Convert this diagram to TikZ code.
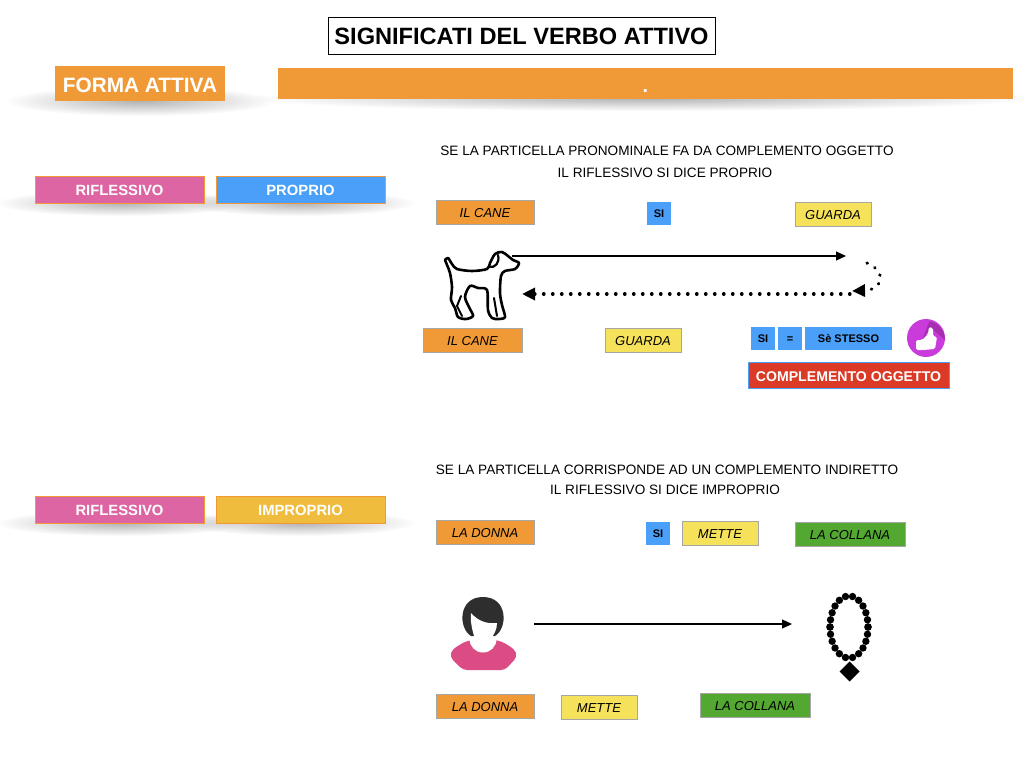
\documentclass[tikz,border=0pt]{standalone}
\usepackage{fontspec}
\setmainfont{Liberation Sans}
\usepackage{xcolor}
\usetikzlibrary{arrows.meta}
\usetikzlibrary{shapes.geometric}
\usetikzlibrary{fadings}
\definecolor{arancio}{HTML}{F09A37}
\definecolor{rosa}{HTML}{DE65A3}
\definecolor{azzurro}{HTML}{4A9FF9}
\definecolor{giallo}{HTML}{F6E25A}
\definecolor{oro}{HTML}{F0BC3D}
\definecolor{verde}{HTML}{53A832}
\definecolor{rosso}{HTML}{DB3B26}
\definecolor{viola}{HTML}{C93BDB}
\definecolor{violascuro}{HTML}{A62FB0}
\definecolor{fucsia}{HTML}{DB4C84}
\definecolor{capelli}{HTML}{2E2E2E}
\tikzfading[name=sfuma,inner color=transparent!70,outer color=transparent!100]

\begin{document}
\begin{tikzpicture}
  [x=1pt,y=-1pt,
  every node/.style={inner sep=0pt,outer sep=0pt,align=center},
  riga/.style={font=\fontsize{13.6}{16}\selectfont},
  tag/.style={font=\fontsize{14.8}{18}\selectfont\bfseries,text=white,draw=arancio,line width=.8pt,minimum height=27pt,minimum width=169pt,text height=12.6pt,text depth=0pt},
  parola/.style={font=\fontsize{13}{15}\selectfont\itshape,draw=black!35,line width=.8pt,minimum height=24pt,text height=11.3pt,text depth=0pt},
  mini/.style={font=\fontsize{11}{12}\selectfont\bfseries,fill=azzurro,minimum height=23pt,text height=8.6pt,text depth=0pt},
  ombra/.style={fill=black,path fading=sfuma},
  punti/.style={line width=3.2pt,line cap=round,dash pattern=on .5pt off 8.5pt,-{Triangle[length=13pt,width=12pt]}},
  linea/.style={line width=1.2pt,-{Triangle[length=10pt,width=9pt]}}]
  \useasboundingbox (0,0) rectangle (1024,768);

  % ombre
  \fill[ombra] (140,101) ellipse (135 and 15);
  \fill[ombra] (645,98) ellipse (395 and 13);
  \fill[ombra] (120,203) ellipse (125 and 13);
  \fill[ombra] (300,203) ellipse (115 and 13);
  \fill[ombra] (120,523) ellipse (125 and 13);
  \fill[ombra] (300,523) ellipse (115 and 13);

  % intestazione
  \node (titolo) at (521.5,35.5) [draw=black,line width=.8pt,minimum width=387pt,minimum height=37pt,font=\fontsize{23.6}{28}\selectfont\bfseries,text height=19pt,text depth=0pt] {SIGNIFICATI DEL VERBO ATTIVO};
  \node (forma) at (140,83.5) [fill=arancio,text=white,minimum width=170pt,minimum height=35pt,font=\fontsize{20.8}{24}\selectfont\bfseries,text height=17pt,text depth=0pt] {FORMA ATTIVA};
  \node (barra) at (645.5,83.5) [fill=arancio,text=white,minimum width=735pt,minimum height=31pt,font=\fontsize{20}{22}\selectfont\bfseries,text height=17pt,text depth=0pt] {.};

  % proprio
  \node (rif1) at (119.5,189.5) [tag,fill=rosa] {RIFLESSIVO};
  \node (pro) at (300.5,189.5) [tag,fill=azzurro] {PROPRIO};
  \node (t1) at (667,151) [riga] {SE LA PARTICELLA PRONOMINALE FA DA COMPLEMENTO OGGETTO};
  \node (t2) at (665,173) [riga] {IL RIFLESSIVO SI DICE PROPRIO};
  \node (cane1) at (485,212) [parola,fill=arancio,minimum width=98pt] {IL CANE};
  \node (si1) at (659,213) [mini,minimum width=24pt] {SI};
  \node (gua1) at (833,214) [parola,fill=giallo,minimum width=76pt] {GUARDA};
  \node (cane2) at (472.5,340) [parola,fill=arancio,minimum width=99pt] {IL CANE};
  \node (gua2) at (643,340) [parola,fill=giallo,minimum width=76pt] {GUARDA};
  \node (si2) at (763,338.5) [mini,minimum width=24pt] {SI};
  \node (ug) at (790,338.5) [mini,minimum width=24pt] {=};
  \node (se) at (848.5,338.5) [mini,minimum width=87pt] {Sè STESSO};
  \node (co) at (848.5,375) [fill=rosso,draw=azzurro,line width=1pt,text=white,minimum width=201pt,minimum height=26pt,font=\fontsize{14.1}{17}\selectfont\bfseries,text height=12pt,text depth=0pt] {COMPLEMENTO OGGETTO};

  % cane
  \draw[line width=2.6pt,line join=round,line cap=round,fill=white]
    plot[smooth,tension=.5] coordinates {(445,260) (448,258) (452,264) (457,269) (472,271) (487,269)
    (490,263) (495,254) (502,252) (508,256) (513,260) (519,263) (515,269) (505,271)
    (501,276) (500,293) (502,305) (505,317) (499,319) (492,318) (488,310) (487,290)
    (478,288) (470,286) (465,297) (470,309) (473,316) (466,319) (458,317) (455,308)
    (451,300) (452,287) (450,273) (447,265) (445,260)};
  \draw[line width=2.2pt,line cap=round] (489,267) .. controls (495,268) and (500,263) .. (498,255);
  \draw[line width=2pt,line cap=round] (494,298) -- (497,316);
  \draw[line width=2pt,line cap=round] (461,296) -- (457,306) -- (462,316);

  % frecce del cane
  \coordinate (a1) at (512,256);
  \coordinate (a2) at (846,256);
  \coordinate (b1) at (850,294);
  \coordinate (b2) at (522,294);
  \coordinate (c1) at (867,263);
  \coordinate (c2) at (852,291);
  \draw[linea] (a1) -- (a2);
  \draw[punti] (b1) -- (b2);
  \draw[punti] (c1) .. controls (888,272) and (882,290) .. (c2);

  % pollice
  \fill[viola] (926,338) circle (19);
  \fill[violascuro] (930,327) -- (945,340) arc (0:-80:19) -- (918,351) -- cycle;
  \fill[white,rounded corners=1.5pt] (916,340) -- (922,340) -- (928,334) -- (929,327) -- (933,328) -- (933,336) -- (937,337) -- (935,349) -- (923,350) -- (916,350) -- cycle;

  % improprio
  \node (rif2) at (119.5,509.5) [tag,fill=rosa] {RIFLESSIVO};
  \node (imp) at (300.5,509.5) [tag,fill=oro] {IMPROPRIO};
  \node (t3) at (667,470) [riga] {SE LA PARTICELLA CORRISPONDE AD UN COMPLEMENTO INDIRETTO};
  \node (t4) at (665,490) [riga] {IL RIFLESSIVO SI DICE IMPROPRIO};
  \node (don1) at (485,532) [parola,fill=arancio,minimum width=98pt] {LA DONNA};
  \node (si3) at (658,533) [mini,minimum width=24pt] {SI};
  \node (met1) at (720,533) [parola,fill=giallo,minimum width=76pt] {METTE};
  \node (col1) at (850,534) [parola,fill=verde,minimum width=110pt] {LA COLLANA};
  \node (don2) at (485,706) [parola,fill=arancio,minimum width=98pt] {LA DONNA};
  \node (met2) at (599,707) [parola,fill=giallo,minimum width=76pt] {METTE};
  \node (col2) at (755,705) [parola,fill=verde,minimum width=110pt] {LA COLLANA};

  % donna
  \fill[fucsia,rounded corners=4pt] (450,657) .. controls (452,649) and (460,644) .. (470,640) -- (497,640) .. controls (507,644) and (515,649) .. (517,657) -- (505,670) -- (463,670) -- cycle;
  \fill[white] (483,639) circle (13.5);
  \fill[capelli] (471,636) .. controls (458,628) and (458,597) .. (483,597) .. controls (508,597) and (508,628) .. (495,636) -- cycle;
  \fill[white] (471,613) .. controls (479,622) and (488,624) .. (497,623) .. controls (497,630) and (494,634) .. (491,639) -- (475,639) .. controls (472,630) and (470,620) .. (471,613) -- cycle;

  % freccia della donna
  \coordinate (d1) at (534,624);
  \coordinate (d2) at (792,624);
  \draw[linea] (d1) -- (d2);

  % collana
  \foreach \s in {90,270}
    \foreach \p in {10.7,30.5,47.4,62.6,76.5,90} {
      \fill (849,627) ++(\s+\p:19 and 31) circle (3.7);
      \fill (849,627) ++(\s-\p:19 and 31) circle (3.7);
    }
  \node (pend) at (849.5,671.5) [diamond,fill=black,minimum width=20pt,minimum height=20pt] {};
\end{tikzpicture}
\end{document}
